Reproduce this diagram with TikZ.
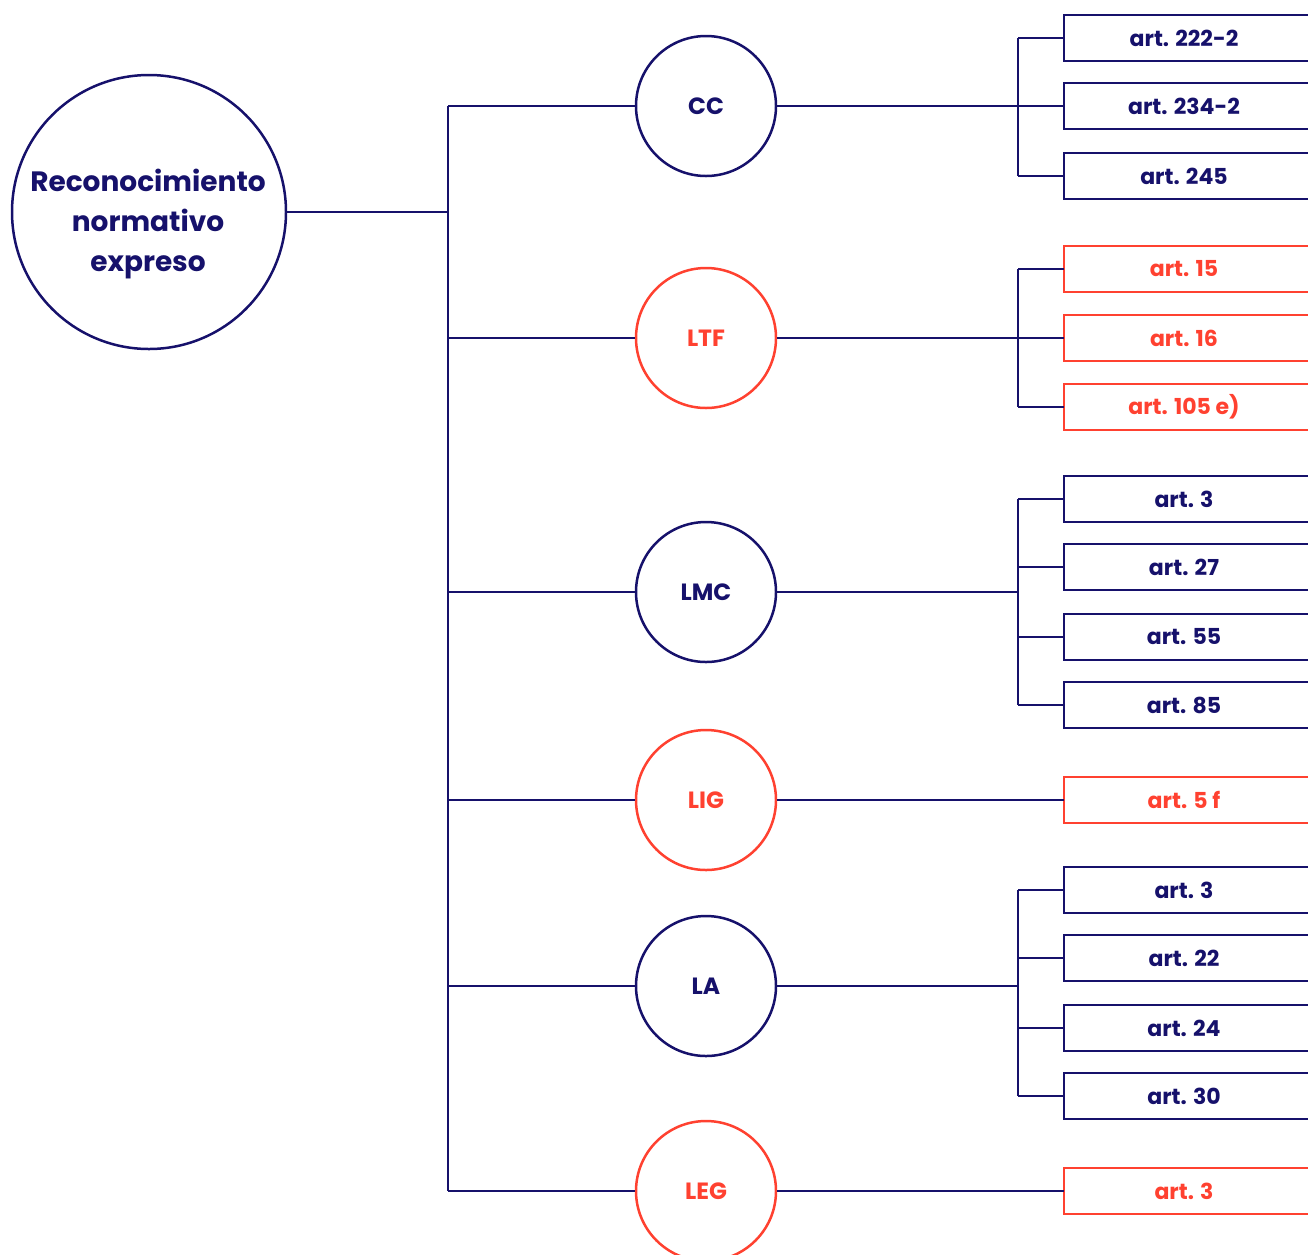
\documentclass[tikz,border=0pt]{standalone}
\usepackage{fontspec}
\setmainfont{Poppins}
\definecolor{navy}{HTML}{16116B}
\definecolor{tomato}{HTML}{FF4130}
\tikzset{
  conn/.style={draw=navy, line width=2.5pt},
  law/.style={circle, draw=#1, line width=2.5pt, minimum size=140pt, inner sep=0pt, text=#1, font=\fontsize{23.5}{28}\selectfont\bfseries},
  abox/.style={rectangle, minimum width=240pt, minimum height=46pt, inner sep=0pt, font=\fontsize{22}{26}\selectfont\bfseries},
}
\newcommand\artbox[4]{%
  \node[abox, text=#4] (#1) at (1184,#2) {#3};
  \draw[#4, line width=2.5pt] ([xshift=40pt]#1.north east) -| (#1.south west) -- ([xshift=40pt]#1.south east);}
\begin{document}
\begin{tikzpicture}[x=1pt, y=-1pt]
\useasboundingbox (0,0) rectangle (1308,1254);
\clip (0,0) rectangle (1308,1254);
% root
\node[circle, draw=navy, line width=2.5pt, minimum size=274pt, inner sep=0pt] (root) at (149,212) {};
\node[text=navy, align=center, font=\fontsize{28}{40}\selectfont\bfseries] (roottext) at (148,224) {Reconocimiento\\normativo\\expreso};
% laws
\node[law=navy]   (CC)  at (706,106)  {CC};
\node[law=tomato] (LTF) at (706,338)  {LTF};
\node[law=navy]   (LMC) at (706,592)  {LMC};
\node[law=tomato] (LIG) at (706,800)  {LIG};
\node[law=navy]   (LA)  at (706,986)  {LA};
\node[law=tomato] (LEG) at (706,1191) {LEG};
% trunk
\coordinate (rj) at (448,212);
\draw[conn] (root.east) -- (rj);
\draw[conn] (CC.west -| rj) -- (LEG.west -| rj);
\foreach \n in {CC,LTF,LMC,LIG,LA,LEG} {\draw[conn] (\n.west -| rj) -- (\n.west);}
% articles
\artbox{cc1}{38}{art. 222-2}{navy}
\artbox{cc2}{106}{art. 234-2}{navy}
\artbox{cc3}{176}{art. 245}{navy}
\artbox{ltf1}{269}{art. 15}{tomato}
\artbox{ltf2}{338}{art. 16}{tomato}
\artbox{ltf3}{407}{art. 105 e)}{tomato}
\artbox{lmc1}{499}{art. 3}{navy}
\artbox{lmc2}{567}{art. 27}{navy}
\artbox{lmc3}{637}{art. 55}{navy}
\artbox{lmc4}{705}{art. 85}{navy}
\artbox{lig1}{800}{art. 5 f}{tomato}
\artbox{la1}{890}{art. 3}{navy}
\artbox{la2}{958}{art. 22}{navy}
\artbox{la3}{1028}{art. 24}{navy}
\artbox{la4}{1096}{art. 30}{navy}
\artbox{leg1}{1191}{art. 3}{tomato}
% brackets
\coordinate (bx) at (1018,0);
\draw[conn] (CC.east) -- (CC.east -| bx);
\draw[conn] (LTF.east) -- (LTF.east -| bx);
\draw[conn] (LMC.east) -- (LMC.east -| bx);
\draw[conn] (LA.east) -- (LA.east -| bx);
\draw[conn] (LIG.east) -- (lig1.west);
\draw[conn] (LEG.east) -- (leg1.west);
\draw[conn] (cc1.west -| bx) -- (cc3.west -| bx);
\draw[conn] (ltf1.west -| bx) -- (ltf3.west -| bx);
\draw[conn] (lmc1.west -| bx) -- (lmc4.west -| bx);
\draw[conn] (la1.west -| bx) -- (la4.west -| bx);
\foreach \b in {cc1,cc2,cc3,ltf1,ltf2,ltf3,lmc1,lmc2,lmc3,lmc4,la1,la2,la3,la4} {\draw[conn] (\b.west -| bx) -- (\b.west);}
\end{tikzpicture}
\end{document}
